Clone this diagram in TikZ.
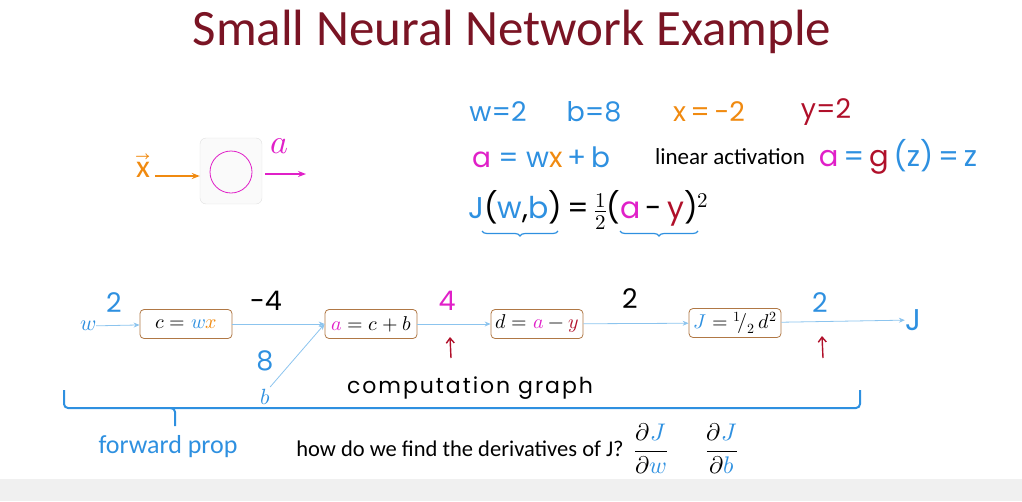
\documentclass[tikz,border=0pt]{standalone}
\usepackage{fontspec}
\usepackage{unicode-math}
\setmainfont{Carlito}
\setmathfont{Latin Modern Math}
\newfontfamily\hand{Poppins}
\usetikzlibrary{arrows.meta,decorations.pathreplacing}
\definecolor{hblue}{HTML}{2E90E0}
\definecolor{horange}{HTML}{F08A10}
\definecolor{hmag}{HTML}{E020C8}
\definecolor{hred}{HTML}{B0102A}
\definecolor{ttl}{HTML}{7A1424}
\definecolor{boxline}{HTML}{B07845}
\definecolor{lineblue}{HTML}{8CC4EE}
\begin{document}
\begin{tikzpicture}[x=1pt,y=-1pt,
    every node/.style={inner sep=0pt},
    hw/.style={font=\hand\fontsize{27}{29}\selectfont},
    opbox/.style={draw=boxline, line width=0.8pt, rounded corners=4pt,
      minimum width=92pt, minimum height=29pt, font=\fontsize{20}{22}\selectfont},
    flow/.style={draw=lineblue, line width=0.8pt, -{Stealth[length=6pt,width=5pt]}},
    redtick/.style={draw=hred, line width=1.4pt, -{Straight Barb[length=5pt,width=8pt]}},
    curly/.style={draw=hblue, line width=1.2pt, decorate,
      decoration={brace,mirror,amplitude=5pt}}]
\useasboundingbox (0,0) rectangle (1022,501);
\fill[black!6] (0,479) rectangle (1022,501);
\node[text=ttl, font=\fontsize{51}{55}\selectfont] (title) at (512,32) {Small Neural Network Example};

\node[text=horange, font=\fontsize{32}{34}\selectfont] (xin) at (143,166) {$\vec{\mathrm{x}}$};
\node[draw=black!12, fill=black!2, rounded corners=6pt, minimum width=62pt, minimum height=66pt] (unit) at (231,171) {};
\node[draw=hmag, circle, line width=0.8pt, minimum size=42pt] (neuron) at (231,172) {};
\node[text=hmag, font=\fontsize{34}{36}\selectfont] (aout) at (279,146) {$a$};
\coordinate (aend) at (306,174);
\draw[horange, line width=1.8pt, -{Stealth[length=8pt]}] (xin.east |- 0,176) ++(5,0) -- (unit.west |- 0,176);
\draw[hmag, line width=1.8pt, -{Stealth[length=8pt]}] (unit.east |- aend) ++(3,0) -- (aend);

\node[hw, text=hblue] (wval) at (498,112) {w=2};
\node[hw, text=hblue] (bval) at (594,112) {b=8};
\node[hw, text=horange] (xval) at (709,112) {x\,=\,-2};
\node[hw, text=hred] (yval) at (826,112) {y=2};
\node[hw, font=\hand\fontsize{28}{30}\selectfont] (lin) at (541,157) {\textcolor{hmag}{a} \textcolor{hblue}{= w}\textcolor{horange}{x}\textcolor{hblue}{\,+\,b}};
\node[font=\fontsize{23}{25}\selectfont] (linact) at (730,157) {linear activation};
\node[hw, font=\hand\fontsize{29}{31}\selectfont] (gz) at (898,157) {\textcolor{hmag}{a}\,\textcolor{hblue}{=}\,\textcolor{hred}{g}\textcolor{hblue}{\,(z)\,=\,z}};
\node[hw, font=\hand\fontsize{30}{32}\selectfont, anchor=west] (cost) at (468,210) {\textcolor{hblue}{J}(\textcolor{hblue}{w},\textcolor{hblue}{b})\,=\,$\frac{1}{2}$(\textcolor{hmag}{a}\,-\,\textcolor{hred}{y})$^2$};
\draw[curly] (482,231) -- (558,231);
\draw[curly] (620,231) -- (698,231);

\node[text=hblue, font=\fontsize{22}{24}\selectfont] (w) at (88,326) {$w$};
\node[opbox] (cbox) at (186,324) {$c = {\color{hblue}w}{\color{horange}x}$};
\node[opbox] (abox) at (371,324) {${\color{hmag}a} = c + b$};
\node[opbox] (dbox) at (537,324) {$d = {\color{hmag}a} - {\color{hred}y}$};
\node[opbox] (jbox) at (735,323) {${\color{hblue}J} = {}^1\!/_2\, d^2$};
\node[hw, font=\hand\fontsize{30}{32}\selectfont, text=hblue] (J) at (913,320) {J};
\node[text=hblue, font=\fontsize{22}{24}\selectfont] (b) at (265,397) {$b$};
\draw[flow] (w) -- (cbox);
\draw[flow] (cbox) -- (abox);
\draw[flow] (abox) -- (dbox);
\draw[flow] (dbox) -- (jbox);
\draw[flow] (jbox) -- (J);
\draw[flow] (b.north east) ++(0,-2) -- (abox.west);

\node[hw, text=hblue] (v1) at (114,303) {2};
\node[hw] (v2) at (266,301) {-4};
\node[hw, text=hmag] (v3) at (447,301) {4};
\node[hw] (v4) at (630,299) {2};
\node[hw, text=hblue] (v5) at (820,303) {2};
\node[hw, text=hblue] (v6) at (265,361) {8};
\coordinate (m1a) at (451,358); \coordinate (m1b) at (450,337);
\coordinate (m2a) at (823,358); \coordinate (m2b) at (822,336);
\draw[redtick] (m1a) -- (m1b);
\draw[redtick] (m2a) -- (m2b);

\node[font=\hand\fontsize{22}{24}\selectfont\addfontfeature{LetterSpace=9}] (cg) at (470,388) {computation graph};
\draw[hblue, line width=2pt, rounded corners=4pt] (64,390) |- (175,408) -- (175,426);
\draw[hblue, line width=2pt, rounded corners=4pt] (170,408) -| (860,390);

\node[text=hblue, font=\fontsize{26}{28}\selectfont] (fp) at (168,447) {forward prop};
\node[font=\fontsize{22.5}{24}\selectfont] (q) at (460,449) {how do we find the derivatives of J?};
\node[font=\fontsize{24}{26}\selectfont] (dw) at (651,449) {$\displaystyle\frac{\partial {\color{hblue}J}}{\partial {\color{hblue}w}}$};
\node[font=\fontsize{24}{26}\selectfont] (db) at (722,449) {$\displaystyle\frac{\partial {\color{hblue}J}}{\partial {\color{hblue}b}}$};
\end{tikzpicture}
\end{document}
